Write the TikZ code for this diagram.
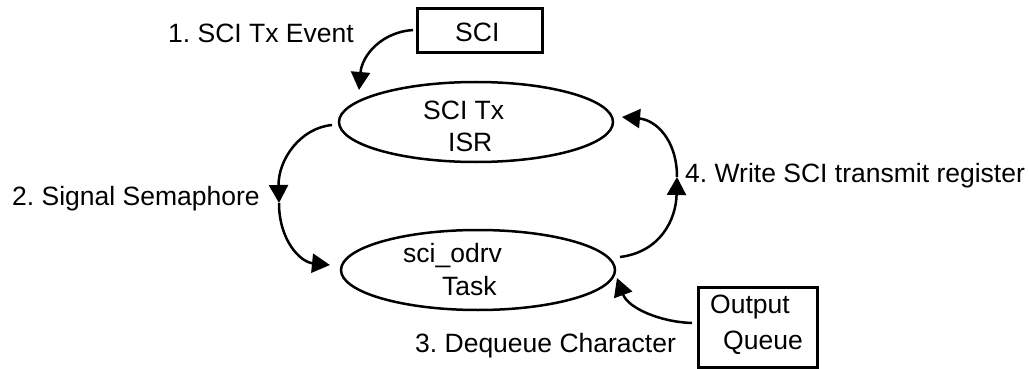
\documentclass[tikz,border=0pt]{standalone}
\usepackage{fontspec}
\setmainfont{Liberation Sans}
\usetikzlibrary{shapes.geometric,arrows.meta}
\frenchspacing
\tikzset{
  lbl/.style={anchor=base west,inner sep=0pt,font=\fontsize{26.5}{31}\selectfont},
  boxnode/.style={draw,line width=3pt,inner sep=0pt},
  state/.style={draw,ellipse,line width=2.5pt,inner sep=0pt,minimum width=274pt,minimum height=80pt},
  flow/.style={line width=2.5pt,-{Triangle[length=18pt,width=19pt]}},
  plain/.style={line width=2.5pt}
}
\begin{document}
\begin{tikzpicture}[x=1pt,y=-1pt]
\useasboundingbox (0,0) rectangle (1029,369);

% boxes and states
\node[boxnode,minimum width=125pt,minimum height=44pt] (sci) at (479.5,31) {};
\node[boxnode,minimum width=119pt,minimum height=80pt] (oq) at (757.5,327) {};
\node[state] (isr) at (476,122) {};
\node[state] (task) at (478,270) {};

% texts
\node[lbl] (tsci) at (455,42) {SCI};
\node[lbl] (tout) at (710,313) {Output};
\node[lbl] (tque) at (723,349) {Queue};
\node[lbl] (tisrA) at (423,120) {SCI Tx};
\node[lbl] (tisrB) at (448,151) {ISR};
\node[lbl] (ttaskA) at (403,262) {sci\_odrv};
\node[lbl] (ttaskB) at (442,295) {Task};
\node[lbl] (l1) at (168,43) {1. SCI Tx Event};
\node[lbl] (l2) at (12,205) {2. Signal Semaphore};
\node[lbl] (l3) at (415,352) {3. Dequeue Character};
\node[lbl] (l4) at (685,182) {4. Write SCI transmit register};

% connector end points
\coordinate (a1s) at (413,30);
\coordinate (a1e) at (359,90);
\coordinate (a2s) at (332,125);
\coordinate (a2m) at (279,203);
\coordinate (a2e) at (330,265);
\coordinate (a3s) at (692,323);
\coordinate (a3e) at (617,278);
\coordinate (a4s) at (620,257);
\coordinate (a4m) at (677,177);
\coordinate (a4e) at (622,117);

% 1. SCI Tx event
\draw[flow] (a1s) .. controls (382,32) and (362,55) .. (a1e);
% 2. signal semaphore
\draw[flow] (a2s) .. controls (300,128) and (278,160) .. (a2m);
\draw[flow] (a2m) .. controls (279,240) and (300,262) .. (a2e);
% 3. dequeue character
\draw[flow] (a3s) .. controls (660,322) and (628,308) .. (a3e);
% 4. write transmit register
\draw[flow] (a4s) .. controls (660,252) and (676,220) .. (a4m);
\draw[flow] (a4m) .. controls (677,140) and (656,120) .. (a4e);
\end{tikzpicture}
\end{document}
